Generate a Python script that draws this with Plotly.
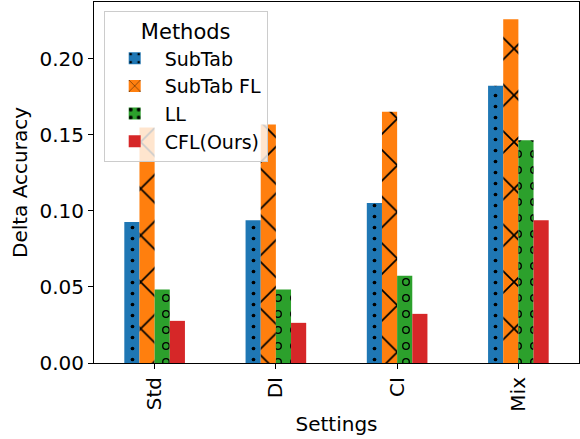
import plotly.graph_objects as go

# Delta accuracy per setting for each method
settings = ["Std", "DI", "CI", "Mix"]
methods = ["SubTab", "SubTab FL", "LL", "CFL(Ours)"]
subtab = [0.0927, 0.0938, 0.1051, 0.1823]
subtab_fl = [0.1548, 0.1567, 0.1652, 0.2260]
ll = [0.0483, 0.0483, 0.0573, 0.1464]
cfl = [0.0277, 0.0264, 0.0323, 0.0938]

series = [subtab, subtab_fl, ll, cfl]
colors = ["#1f77b4", "#ff7f0e", "#2ca02c", "#d62728"]
patterns = [
    dict(shape=".", size=11, solidity=0.09, fgcolor="black", fgopacity=1, fillmode="overlay"),
    dict(shape="x", size=33, solidity=0.10, fgcolor="black", fgopacity=1, fillmode="overlay"),
    dict(shape=".", size=16, solidity=0.19, fgcolor="black", fgopacity=1, fillmode="overlay"),
    dict(shape="", fillmode="overlay"),
]

FONT = "DejaVu Sans"
bar_w = 0.125
xpos = list(range(len(settings)))

fig = go.Figure()
for i, (name, vals) in enumerate(zip(methods, series)):
    off = -0.25 + i * bar_w
    fig.add_trace(go.Bar(
        x=xpos, y=vals, name=name, width=bar_w, offset=off,
        marker=dict(color=colors[i], line=dict(width=0), pattern=patterns[i]),
        legendgroup=name,
    ))
    if name == "LL":
        # green inner dots turn the black dots into hollow rings
        fig.add_trace(go.Bar(
            x=xpos, y=vals, width=bar_w, offset=off, showlegend=False,
            legendgroup=name, hoverinfo="skip",
            marker=dict(color="rgba(0,0,0,0)", line=dict(width=0),
                        pattern=dict(shape=".", size=16, solidity=0.085,
                                     fgcolor=colors[i], fgopacity=1,
                                     fillmode="replace")),
        ))

axis_common = dict(
    showline=True, linecolor="black", linewidth=1, mirror=True,
    ticks="outside", ticklen=5, tickcolor="black", showgrid=False,
    zeroline=False, tickfont=dict(family=FONT, size=20, color="black"),
)

fig.update_layout(
    width=580, height=439,
    margin=dict(l=94, r=1, t=2, b=76),
    paper_bgcolor="white", plot_bgcolor="white",
    barmode="overlay",
    font=dict(family=FONT, color="black"),
    xaxis=dict(
        **axis_common, range=[-0.5, 3.5], tickvals=xpos, ticktext=settings,
        tickangle=-90,
        title=dict(text="Settings", font=dict(family=FONT, size=20), standoff=6),
    ),
    yaxis=dict(
        **axis_common, range=[0, 0.2373], tickvals=[0, 0.05, 0.10, 0.15, 0.20],
        tickformat=".2f",
        title=dict(text="Delta Accuracy", font=dict(family=FONT, size=20), standoff=6),
    ),
    legend=dict(
        x=0.02, y=0.975, xanchor="left", yanchor="top",
        bgcolor="rgba(255,255,255,0.8)", bordercolor="#cccccc", borderwidth=1,
        font=dict(family=FONT, size=19, color="black"),
        title=dict(text="Methods", side="top center", font=dict(family=FONT, size=21)),
        traceorder="grouped", tracegroupgap=0, itemwidth=50,
    ),
)

fig.write_html("out.html")
